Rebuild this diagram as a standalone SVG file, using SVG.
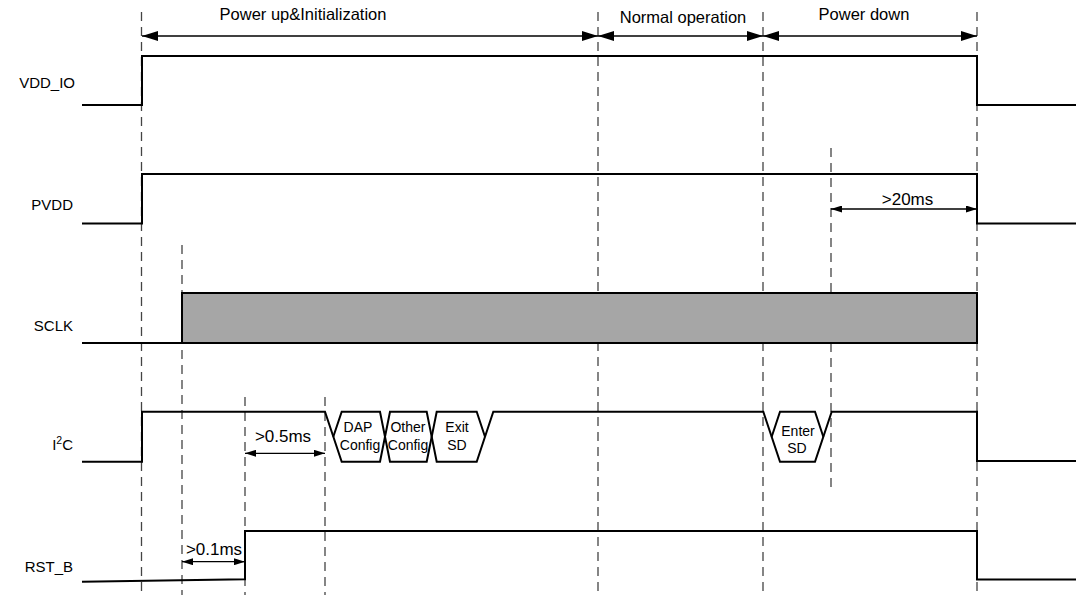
<svg xmlns="http://www.w3.org/2000/svg" width="1076" height="595" viewBox="0 0 1076 595">
<defs>
<marker id="ah" viewBox="0 0 16 10" markerWidth="16" markerHeight="10" refX="16" refY="5" orient="auto-start-reverse" markerUnits="userSpaceOnUse"><path d="M0,0 L16,5 L0,10 z" fill="#000"/></marker>
<marker id="as" viewBox="0 0 11 7" markerWidth="11" markerHeight="7" refX="11" refY="3.5" orient="auto-start-reverse" markerUnits="userSpaceOnUse"><path d="M0,0 L11,3.5 L0,7 z" fill="#000"/></marker>
</defs>
<style>
.sig{fill:none;stroke:#000;stroke-width:2;stroke-linejoin:miter}
.dash{stroke:#444;stroke-width:1.3;stroke-dasharray:9,6;fill:none}
.dim{stroke:#000;stroke-width:1.3;fill:none}
.lbl{font-family:"Liberation Sans",Arial,sans-serif;font-size:15px;fill:#000;text-anchor:end}
.ms{font-family:"Liberation Sans",Arial,sans-serif;font-size:17px;fill:#000;text-anchor:middle}
.ttl{font-family:"Liberation Sans",Arial,sans-serif;font-size:16.5px;fill:#000;text-anchor:middle}
.hx{font-family:"Liberation Sans",Arial,sans-serif;font-size:14px;fill:#000;text-anchor:middle}
</style>
<rect width="1076" height="595" fill="#fff"/>

<g id="guides">
<line class="dash" x1="141.5" y1="12" x2="141.5" y2="595"/>
<line class="dash" x1="182" y1="245" x2="182" y2="595"/>
<line class="dash" x1="245" y1="397" x2="245" y2="595"/>
<line class="dash" x1="325" y1="397" x2="325" y2="595"/>
<line class="dash" x1="598" y1="12" x2="598" y2="595"/>
<line class="dash" x1="763" y1="12" x2="763" y2="595"/>
<line class="dash" x1="831" y1="148" x2="831" y2="488"/>
<line class="dash" x1="977" y1="12" x2="977" y2="595"/>
</g>

<g id="phases">
<text class="ttl" x="303" y="20">Power up&amp;Initialization</text>
<text class="ttl" x="683" y="23">Normal operation</text>
<text class="ttl" x="864" y="20">Power down</text>
</g>

<g id="vdd_io">
<text class="lbl" x="75" y="88">VDD_IO</text>
<path class="sig" d="M82,105 H142 V56 H977 V105 H1076"/>
</g>

<g id="pvdd">
<text class="lbl" x="73" y="210">PVDD</text>
<path class="sig" d="M82,223.5 H142 V174 H977 V223.5 H1076"/>
</g>

<g id="sclk">
<text class="lbl" x="73" y="331">SCLK</text>
<path class="sig" d="M82,343 H182"/>
<rect x="182" y="293" width="795" height="50" fill="#a6a6a6" stroke="#000" stroke-width="2"/>
</g>

<g id="i2c">
<text class="lbl" x="73" y="450">I<tspan font-size="10.5" dy="-6">2</tspan><tspan dy="6">C</tspan></text>
<path class="sig" d="M82,461.7 H142 V411.7 H325 L341.7,461.7 H380 L390,411.7 H426.7 L436.7,461.7 H476.7 L493.3,411.7 H763.3 L780,461.7 H815 L831.7,411.7 H977 V461 H1076"/>
<path class="sig" d="M333.3,436.7 L341.7,411.7 H380 L390,461.7 H426.7 L436.7,411.7 H476.7 L485,436.7"/>
<path class="sig" d="M771.7,436.7 L780,411.7 H815 L823.3,436.7"/>
<text class="hx" x="358" y="432">DAP</text>
<text class="hx" x="360" y="450">Config</text>
<text class="hx" x="408" y="432">Other</text>
<text class="hx" x="408" y="450">Config</text>
<text class="hx" x="457" y="432">Exit</text>
<text class="hx" x="457" y="450">SD</text>
<text class="hx" x="798" y="436">Enter</text>
<text class="hx" x="797" y="453">SD</text>
</g>

<g id="rst_b">
<text class="lbl" x="73" y="572">RST_B</text>
<path class="sig" d="M82,581.7 L245,579.3 V531 H977 V579.5 H1076"/>
</g>

<g id="connectors">
<line class="dim" x1="142" y1="36" x2="598" y2="36" marker-start="url(#ah)" marker-end="url(#ah)"/>
<line class="dim" x1="598" y1="36" x2="763" y2="36" marker-start="url(#ah)" marker-end="url(#ah)"/>
<line class="dim" x1="763" y1="36" x2="977" y2="36" marker-start="url(#ah)" marker-end="url(#ah)"/>
<line class="dim" x1="831" y1="209" x2="977" y2="209" marker-start="url(#as)" marker-end="url(#as)"/>
<line class="dim" x1="245" y1="453.3" x2="325" y2="453.3" marker-start="url(#as)" marker-end="url(#as)"/>
<line class="dim" x1="182" y1="561.7" x2="245" y2="561.7" marker-start="url(#as)" marker-end="url(#as)"/>
<text class="ms" x="907.5" y="205">&gt;20ms</text>
<text class="ms" x="283" y="442">&gt;0.5ms</text>
<text class="ms" x="214" y="555">&gt;0.1ms</text>
</g>
</svg>
